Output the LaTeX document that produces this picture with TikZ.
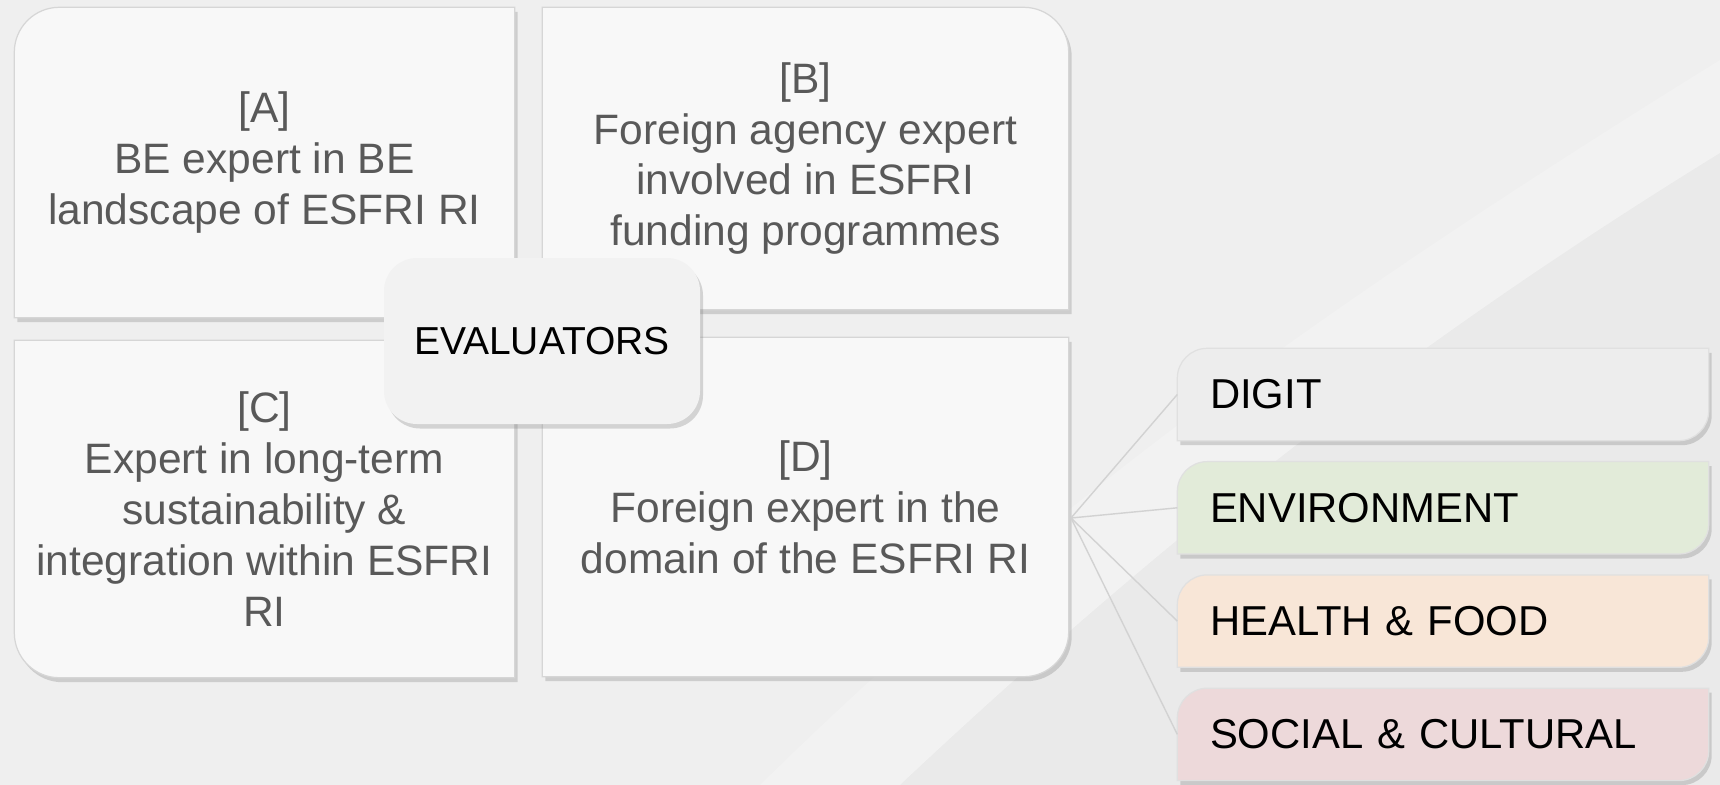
\documentclass[tikz,border=0pt]{standalone}
\usepackage{fontspec}
\setmainfont{Liberation Sans}
\usetikzlibrary{shadows,backgrounds}

\definecolor{pagegray}{HTML}{EFEFEF}
\definecolor{panelfill}{HTML}{F8F8F8}
\definecolor{panelline}{HTML}{D6D6D6}
\definecolor{paneltext}{HTML}{595959}
\definecolor{evalfill}{HTML}{F2F2F2}
\definecolor{digitfill}{HTML}{EDEDED}
\definecolor{envfill}{HTML}{E2EBD9}
\definecolor{healthfill}{HTML}{F8E6D7}
\definecolor{socialfill}{HTML}{EDD9DA}
\definecolor{linkgray}{HTML}{D2D2D2}

\begin{document}
\begin{tikzpicture}
  \tikzstyle{panel}=[rectangle, inner sep=0pt, align=center, text=paneltext, font=\fontsize{12.1}{14.5}\selectfont]
  \tikzstyle{panelshape}=[fill=panelfill, draw=panelline, line width=0.35pt, drop shadow={shadow xshift=0.3mm, shadow yshift=-0.45mm, opacity=0.3}]
  \tikzstyle{tag}=[rectangle, inner sep=0pt, minimum width=5.3cm, minimum height=0.91cm, text width=4.66cm, align=left, text=black, font=\fontsize{11.9}{14.2}\selectfont]
  \tikzstyle{link}=[linkgray, line width=0.4pt]

  \useasboundingbox (0,0) rectangle (17.2,-7.85);

  % the four evaluator panels
  \node[panel, minimum width=4.99cm, minimum height=3.09cm] (a) at (2.645,-1.625) {[A]\\BE expert in BE\\landscape of ESFRI RI};
  \node[panel, minimum width=5.25cm, minimum height=3.01cm] (b) at (8.055,-1.585) {[B]\\Foreign agency expert\\involved in ESFRI\\funding programmes};
  \node[panel, minimum width=4.99cm, minimum height=3.36cm] (c) at (2.645,-5.09) {[C]\\Expert in long-term\\sustainability \&\\integration within ESFRI\\RI};
  \node[panel, minimum width=5.25cm, minimum height=3.38cm] (d) at (8.055,-5.07) {[D]\\Foreign expert in the\\domain of the ESFRI RI};

  \node[rectangle, rounded corners=3.3mm, fill=evalfill, minimum width=3.16cm, minimum height=1.66cm,
        font=\fontsize{11.1}{13}\selectfont, drop shadow={shadow xshift=0.3mm, shadow yshift=-0.45mm, opacity=0.3}] (eval) at (5.42,-3.41) {EVALUATORS};

  % domains
  \node[tag] (digit) at (14.43,-3.945) {DIGIT};
  \node[tag] (env) at (14.43,-5.078) {ENVIRONMENT};
  \node[tag] (health) at (14.43,-6.211) {HEALTH \& FOOD};
  \node[tag] (social) at (14.43,-7.344) {SOCIAL \& CULTURAL};

  \coordinate (hub) at (10.71,-5.18);
  \foreach \t in {digit,env,health,social}
    \draw[link] (hub) -- (\t.west);

  \begin{scope}[on background layer]
    \fill[pagegray] (0,0) rectangle (17.2,-7.85);
    \fill[white, opacity=0.2] (7.6,-7.85) .. controls (10.3,-5.2) and (13,-3.2) .. (17.2,-0.6) -- (17.2,-1.53) .. controls (14,-3.5) and (11.5,-5.5) .. (9.0,-7.85) -- cycle;
    \fill[black, opacity=0.02] (9.0,-7.85) .. controls (11.5,-5.5) and (14,-3.5) .. (17.2,-1.53) -- (17.2,-7.85) -- cycle;

    \path[panelshape] (a.south west) -- ([yshift=-4.5mm]a.north west) arc[start angle=180, end angle=90, radius=4.5mm] -- (a.north east) -- (a.south east) -- cycle;
    \path[panelshape] (b.south west) -- (b.north west) -- ([xshift=-4.5mm]b.north east) arc[start angle=90, end angle=0, radius=4.5mm] -- (b.south east) -- cycle;
    \path[panelshape] (c.north west) -- ([yshift=4.5mm]c.south west) arc[start angle=180, end angle=270, radius=4.5mm] -- (c.south east) -- (c.north east) -- cycle;
    \path[panelshape] (d.north west) -- (d.south west) -- ([xshift=-4.5mm]d.south east) arc[start angle=270, end angle=360, radius=4.5mm] -- (d.north east) -- cycle;

    \foreach \t/\c in {digit/digitfill,env/envfill,health/healthfill,social/socialfill}
      \path[panelshape, fill=\c, draw=black!12] (\t.north east) -- ([xshift=3mm]\t.north west) arc[start angle=90, end angle=180, radius=3mm]
        -- (\t.south west) -- ([xshift=-3mm]\t.south east) arc[start angle=270, end angle=360, radius=3mm] -- cycle;
  \end{scope}
\end{tikzpicture}
\end{document}
